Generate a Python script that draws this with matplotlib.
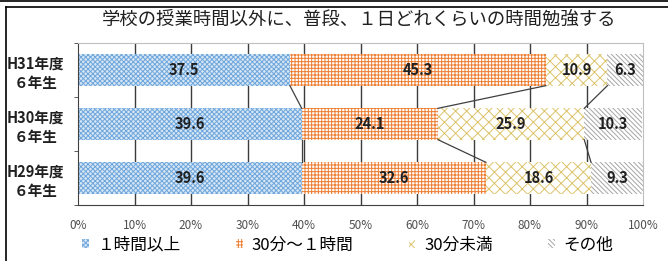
import matplotlib
matplotlib.use("Agg")
import matplotlib.pyplot as plt
from matplotlib.patches import Patch
from matplotlib.lines import Line2D
import numpy as np

plt.rcParams['font.family'] = ['Noto Sans CJK JP', 'DejaVu Sans']
plt.rcParams['hatch.linewidth'] = 0.7

title = "学校の授業時間以外に、普段、１日どれくらいの時間勉強する"
years = ["H31年度\n６年生", "H30年度\n６年生", "H29年度\n６年生"]
series_names = ["１時間以上", "30分～１時間", "30分未満", "その他"]
over_1h = [37.5, 39.6, 39.6]
min30_1h = [45.3, 24.1, 32.6]
under_30 = [10.9, 25.9, 18.6]
other = [6.3, 10.3, 9.3]
x_ticks = [0, 10, 20, 30, 40, 50, 60, 70, 80, 90, 100]

series = [over_1h, min30_1h, under_30, other]
edge_colors = ["#6FA7DC", "#ED7D31", "#DCC36A", "#A5A5A5"]
face_colors = ["#D6E6F5", "white", "white", "white"]
hatches = ["x" * 7, "+" * 5, "xxx", "\\" * 7]

W, H = 668, 261
fig = plt.figure(figsize=(W / 100, H / 100), dpi=100)
ax = fig.add_axes([78 / W, 1 - 205 / H, (643 - 78) / W, (205 - 43) / H])

ypos = np.arange(len(years))[::-1]
bar_h = 0.58
left = np.zeros(len(years))
bounds = []
for vals, ec, fc, ht in zip(series, edge_colors, face_colors, hatches):
    vals = np.array(vals)
    ax.barh(ypos, vals, left=left, height=bar_h, color=fc, edgecolor=ec,
            hatch=ht, linewidth=0, zorder=2)
    for y, l, v in zip(ypos, left, vals):
        ax.text(l + v / 2, y, f"{v:.1f}", ha="center", va="center",
                fontsize=10.5, fontweight="bold", color="#202020", zorder=4)
    left = left + vals
    bounds.append(left.copy())

# series lines between bars
for b in bounds[:-1]:
    for i in range(len(years) - 1):
        ax.plot([b[i], b[i + 1]], [ypos[i] - bar_h / 2, ypos[i + 1] + bar_h / 2],
                color="#404040", lw=0.9, zorder=3)

ax.set_xlim(0, 100)
ax.set_ylim(-0.5, len(years) - 0.5)
ax.set_xticks(x_ticks)
ax.set_xticklabels([f"{t}%" for t in x_ticks], fontsize=8.5, color="#505050")
ax.tick_params(axis="x", length=0, pad=10)
ax.set_yticks(ypos)
ax.set_yticklabels(years, fontsize=10.5, fontweight="bold", color="#202020")
for lab in ax.get_yticklabels():
    lab.set_multialignment("center")
    lab.set_linespacing(1.25)
ax.tick_params(axis="y", which="major", length=0, pad=10)
ax.set_yticks(np.arange(-0.5, len(years), 1.0), minor=True)
ax.tick_params(axis="y", which="minor", length=3, color="#404040")

ax.grid(axis="x", color="#3c3c3c", lw=1.0, zorder=0)
ax.set_axisbelow(True)
gl = ax.xaxis.get_gridlines()
gl[0].set_visible(False)
gl[-1].set_visible(False)
for s in ["top", "right"]:
    ax.spines[s].set_color("#BFBFBF")
for s in ["left", "bottom"]:
    ax.spines[s].set_color("#404040")

fig.text(359 / W, 1 - 20 / H, title, ha="center", va="center", fontsize=13.2, color="#202020")

handles = [Patch(facecolor=fc, edgecolor=ec, hatch=ht, linewidth=0)
           for ec, fc, ht in zip(edge_colors, face_colors, hatches)]
fig.legend(handles, series_names, loc="center left", bbox_to_anchor=(82 / W, 1 - 245 / H),
           ncol=4, frameon=False, fontsize=12, handlelength=0.4, handleheight=0.4,
           handletextpad=0.55, columnspacing=3.3, borderpad=0, borderaxespad=0)

# outer frame
fig.add_artist(Line2D([0, 1], [1 - 1 / H, 1 - 1 / H], transform=fig.transFigure, color="black", lw=1.2))
fig.add_artist(Line2D([6 / W, 1], [1 - 7 / H, 1 - 7 / H], transform=fig.transFigure, color="black", lw=1.2))
fig.add_artist(Line2D([6 / W, 6 / W], [0, 1 - 7 / H], transform=fig.transFigure, color="black", lw=1.2))

fig.savefig("out.png", dpi=100)
